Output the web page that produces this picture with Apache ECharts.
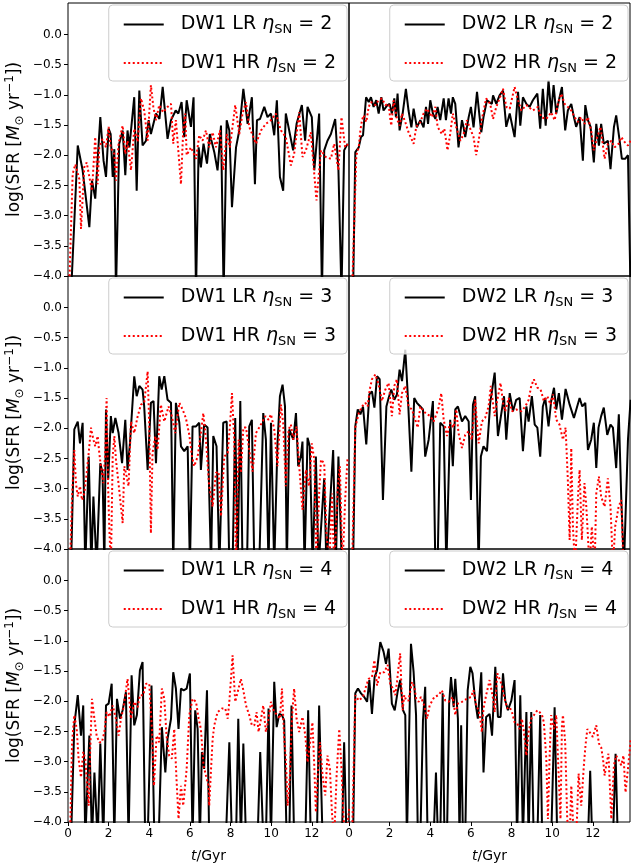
<!DOCTYPE html>
<html>
<head>
<meta charset="utf-8">
<script src="https://cdn.jsdelivr.net/npm/echarts@6/dist/echarts.min.js"></script>
<style>
  html, body { margin: 0; padding: 0; background: #fff; }
  #main { width: 631px; height: 864px; }
</style>
</head>
<body>
<div id="main"></div>
<script>
// SFR history, log(SFR) vs t [Gyr]; points below -4 mean "no star formation"
var dw1LR2 = [[0.15,-4.3],[0.23,-4.3],[0.48,-1.84],[0.72,-2.25],[1.05,-3.19],[1.18,-2.42],[1.34,-2.72],[1.59,-1.37],[1.75,-2.09],[1.87,-2.36],[2.0,-1.56],[2.1,-1.65],[2.2,-2.36],[2.28,-1.9],[2.36,-4.3],[2.52,-1.81],[2.69,-1.59],[2.82,-2.33],[2.93,-1.59],[3.02,-1.87],[3.26,-1.04],[3.38,-2.59],[3.51,-0.93],[3.67,-1.84],[3.84,-1.76],[3.97,-1.42],[4.08,-1.65],[4.33,-1.31],[4.5,-1.4],[4.66,-0.87],[4.75,-0.87],[4.9,-1.73],[5.07,-1.42],[5.3,-1.26],[5.43,-1.31],[5.59,-1.12],[5.72,-1.7],[5.84,-1.09],[6.05,-1.53],[6.18,-1.04],[6.3,-4.3],[6.43,-1.87],[6.54,-2.2],[6.67,-1.81],[6.84,-2.14],[6.98,-1.65],[7.2,-1.95],[7.36,-2.25],[7.53,-1.51],[7.66,-4.3],[7.81,-1.42],[7.94,-1.59],[8.07,-2.86],[8.27,-1.87],[8.43,-1.59],[8.63,-0.9],[8.84,-1.48],[9.05,-1.04],[9.2,-2.48],[9.3,-1.42],[9.45,-1.4],[9.66,-1.2],[9.82,-1.37],[9.99,-1.31],[10.15,-1.67],[10.28,-1.09],[10.43,-2.36],[10.59,-2.59],[10.72,-1.31],[10.85,-1.53],[11.08,-1.92],[11.25,-1.48],[11.51,-1.17],[11.67,-1.76],[11.79,-1.2],[12.0,-1.37],[12.12,-2.25],[12.36,-1.31],[12.5,-4.3],[12.61,-1.92],[12.77,-1.76],[12.94,-1.65],[13.15,-1.4],[13.31,-2.25],[13.46,-4.3],[13.59,-1.92],[13.76,-1.81]];
var dw1HR2 = [[0.05,-4.3],[0.23,-2.31],[0.36,-2.15],[0.56,-2.4],[0.64,-3.22],[0.8,-2.2],[0.92,-2.12],[1.05,-2.36],[1.18,-2.59],[1.34,-1.7],[1.46,-2.48],[1.54,-1.87],[1.7,-1.73],[1.87,-1.87],[2.0,-1.53],[2.1,-1.87],[2.28,-1.98],[2.36,-2.42],[2.49,-1.81],[2.69,-1.51],[2.82,-1.98],[2.93,-1.76],[3.1,-2.25],[3.26,-1.56],[3.43,-1.78],[3.59,-1.06],[3.75,-1.26],[3.92,-1.76],[4.08,-0.84],[4.2,-1.2],[4.33,-1.42],[4.49,-1.17],[4.69,-1.29],[4.9,-1.2],[5.07,-1.15],[5.18,-1.81],[5.31,-1.42],[5.56,-2.48],[5.67,-1.59],[5.77,-1.31],[5.84,-2.0],[6.05,-1.87],[6.3,-2.06],[6.46,-1.67],[6.62,-1.76],[6.79,-1.59],[6.95,-1.87],[7.12,-1.62],[7.28,-1.87],[7.48,-1.59],[7.64,-2.25],[7.81,-1.65],[7.97,-1.87],[8.23,-1.17],[8.43,-1.65],[8.59,-1.31],[8.76,-1.12],[8.92,-1.53],[9.25,-1.81],[9.5,-1.59],[9.74,-1.48],[9.99,-1.42],[10.23,-1.31],[10.48,-1.59],[10.72,-1.7],[10.97,-2.17],[11.13,-1.98],[11.38,-1.29],[11.54,-2.03],[11.71,-1.92],[11.95,-1.62],[12.12,-2.31],[12.23,-2.75],[12.45,-1.92],[12.69,-2.03],[12.94,-2.06],[13.1,-1.81],[13.31,-2.25],[13.46,-1.37],[13.64,-1.87],[13.8,-1.81]];
var dw2LR2 = [[0.2,-4.3],[0.31,-1.95],[0.48,-1.87],[0.59,-1.7],[0.69,-1.67],[0.84,-1.04],[0.97,-1.12],[1.08,-1.04],[1.21,-1.2],[1.34,-1.09],[1.46,-1.31],[1.59,-1.04],[1.7,-1.26],[1.87,-1.18],[2.0,-1.15],[2.11,-1.31],[2.23,-1.06],[2.31,-1.37],[2.39,-0.98],[2.49,-1.59],[2.64,-1.31],[2.8,-0.9],[2.93,-1.26],[3.07,-1.54],[3.18,-1.23],[3.34,-1.54],[3.51,-1.42],[3.67,-1.54],[3.79,-1.2],[3.89,-1.48],[4.0,-1.09],[4.13,-1.31],[4.25,-1.4],[4.36,-1.2],[4.49,-1.42],[4.66,-1.06],[4.77,-1.42],[4.9,-1.06],[5.02,-1.31],[5.11,-1.04],[5.23,-1.15],[5.39,-1.87],[5.56,-1.42],[5.64,-1.54],[5.72,-1.7],[5.89,-1.37],[6.0,-1.2],[6.13,-1.54],[6.3,-0.95],[6.41,-1.31],[6.51,-1.62],[6.62,-1.37],[6.79,-1.09],[7.03,-1.15],[7.09,-1.01],[7.25,-1.15],[7.41,-1.01],[7.58,-0.93],[7.74,-1.53],[7.91,-1.31],[8.15,-1.7],[8.32,-0.95],[8.43,-1.51],[8.56,-1.04],[8.73,-1.15],[8.89,-1.2],[9.05,-1.09],[9.27,-0.98],[9.41,-1.56],[9.54,-0.9],[9.68,-1.51],[9.82,-0.76],[9.95,-1.31],[10.07,-0.84],[10.2,-1.31],[10.33,-1.09],[10.48,-0.87],[10.64,-1.59],[10.77,-1.26],[10.94,-1.15],[11.07,-1.37],[11.18,-1.53],[11.35,-1.37],[11.51,-2.09],[11.63,-1.17],[11.76,-1.42],[11.89,-1.53],[12.05,-2.12],[12.17,-1.48],[12.3,-1.84],[12.41,-1.48],[12.54,-1.81],[12.74,-1.76],[12.87,-2.23],[13.04,-1.53],[13.15,-1.34],[13.32,-1.76],[13.43,-2.06],[13.59,-2.06],[13.73,-2.0],[13.86,-4.3]];
var dw2HR2 = [[0.15,-4.3],[0.36,-2.0],[0.48,-1.87],[0.56,-1.59],[0.64,-1.42],[0.72,-1.34],[0.85,-1.45],[0.97,-1.2],[1.08,-1.12],[1.3,-1.17],[1.46,-1.09],[1.62,-1.06],[1.79,-1.17],[1.95,-1.15],[2.03,-1.4],[2.08,-1.51],[2.2,-1.09],[2.36,-1.4],[2.49,-1.51],[2.61,-1.31],[2.77,-1.45],[2.93,-1.62],[3.18,-1.81],[3.31,-1.53],[3.51,-1.45],[3.67,-1.31],[3.84,-1.23],[4.08,-1.37],[4.25,-1.2],[4.36,-1.53],[4.57,-1.65],[4.69,-1.56],[4.85,-1.92],[4.98,-1.65],[5.11,-1.31],[5.23,-1.48],[5.48,-1.76],[5.64,-1.65],[5.8,-1.42],[6.13,-1.7],[6.26,-2.0],[6.38,-1.76],[6.54,-1.4],[6.75,-1.06],[6.95,-1.15],[7.09,-1.4],[7.25,-1.2],[7.41,-1.06],[7.58,-0.9],[7.74,-1.2],[7.91,-1.23],[8.15,-0.87],[8.32,-1.09],[8.48,-1.26],[8.73,-1.17],[9.05,-1.26],[9.3,-1.2],[9.46,-1.37],[9.71,-1.4],[9.95,-1.29],[10.12,-1.42],[10.28,-1.15],[10.45,-0.98],[10.61,-1.15],[10.77,-1.2],[10.94,-1.26],[11.1,-1.37],[11.27,-1.45],[11.43,-1.37],[11.59,-1.48],[11.76,-1.37],[11.92,-1.59],[12.05,-1.92],[12.22,-1.7],[12.38,-1.53],[12.58,-2.06],[12.74,-1.81],[12.91,-1.76],[13.07,-1.87],[13.27,-1.81],[13.4,-1.7],[13.56,-1.78],[13.73,-1.84],[13.86,-1.76]];

var dw1LR3 = [[0.15,-4.3],[0.31,-2.02],[0.48,-1.89],[0.59,-2.25],[0.72,-1.91],[0.85,-4.3],[1.02,-2.47],[1.15,-4.3],[1.25,-3.13],[1.41,-4.3],[1.59,-2.58],[1.7,-2.74],[1.79,-4.3],[1.87,-1.69],[1.98,-2.85],[2.11,-1.8],[2.2,-2.08],[2.33,-1.83],[2.49,-2.08],[2.66,-2.58],[2.82,-1.86],[2.93,-2.69],[3.05,-2.25],[3.26,-1.14],[3.38,-1.47],[3.51,-1.3],[3.67,-1.36],[3.75,-1.64],[3.92,-2.69],[4.08,-1.58],[4.21,-1.55],[4.33,-2.58],[4.49,-1.14],[4.61,-1.36],[4.74,-1.14],[4.9,-1.53],[5.07,-1.58],[5.18,-4.3],[5.31,-1.58],[5.48,-1.91],[5.56,-2.3],[5.72,-2.38],[5.89,-2.3],[6.0,-4.3],[6.13,-1.97],[6.3,-1.97],[6.46,-1.91],[6.54,-2.69],[6.7,-1.94],[6.87,-1.99],[7.04,-4.3],[7.15,-2.13],[7.31,-2.3],[7.45,-4.3],[7.64,-1.91],[7.81,-1.89],[7.94,-4.3],[8.1,-4.3],[8.23,-1.83],[8.35,-4.3],[8.48,-1.55],[8.59,-4.3],[8.81,-4.3],[8.92,-1.97],[9.05,-1.86],[9.17,-4.3],[9.41,-4.3],[9.61,-1.75],[9.74,-2.19],[9.87,-4.3],[9.99,-1.91],[10.15,-4.3],[10.31,-2.25],[10.43,-1.47],[10.56,-1.28],[10.68,-1.64],[10.77,-4.3],[10.89,-2.02],[11.09,-2.19],[11.22,-1.75],[11.33,-2.63],[11.46,-2.47],[11.54,-2.22],[11.64,-4.3],[11.79,-2.16],[11.9,-2.3],[12.04,-4.3],[12.2,-2.47],[12.33,-4.3],[12.61,-2.83],[12.72,-4.3],[13.05,-2.36],[13.18,-4.3],[13.31,-2.47],[13.48,-4.3],[13.84,-4.3]];
var dw1HR3 = [[0.1,-4.3],[0.2,-3.13],[0.31,-2.36],[0.39,-2.91],[0.48,-3.13],[0.59,-2.96],[0.69,-3.19],[0.8,-3.08],[0.92,-2.74],[1.02,-2.41],[1.13,-1.99],[1.25,-2.19],[1.34,-2.3],[1.46,-2.13],[1.54,-2.41],[1.62,-2.63],[1.74,-2.91],[1.84,-2.36],[1.9,-1.5],[1.97,-2.91],[2.03,-3.63],[2.11,-4.3],[2.2,-2.47],[2.28,-2.13],[2.36,-2.52],[2.52,-3.02],[2.69,-3.57],[2.77,-2.63],[2.85,-2.74],[2.98,-2.96],[3.1,-1.89],[3.26,-2.08],[3.43,-1.8],[3.59,-1.61],[3.75,-1.58],[3.92,-1.06],[4.0,-1.97],[4.08,-3.74],[4.16,-2.41],[4.3,-2.13],[4.41,-2.36],[4.57,-1.61],[4.74,-1.89],[4.95,-1.64],[5.11,-1.8],[5.28,-2.08],[5.48,-1.58],[5.64,-1.69],[5.8,-1.83],[5.97,-2.11],[6.1,-2.47],[6.21,-2.63],[6.38,-2.47],[6.54,-2.08],[6.66,-1.75],[6.79,-2.19],[6.95,-2.96],[7.12,-3.3],[7.28,-2.74],[7.41,-2.72],[7.53,-3.46],[7.69,-2.47],[7.86,-2.41],[7.97,-1.97],[8.07,-1.42],[8.18,-2.19],[8.27,-4.3],[8.4,-2.19],[8.51,-2.74],[8.63,-1.99],[8.76,-1.99],[8.92,-2.36],[9.09,-2.72],[9.25,-2.08],[9.41,-1.99],[9.54,-1.91],[9.71,-1.8],[9.87,-1.86],[9.99,-1.77],[10.15,-2.02],[10.31,-2.63],[10.48,-1.61],[10.59,-1.91],[10.72,-2.96],[10.86,-2.02],[10.97,-1.94],[11.09,-2.19],[11.25,-1.97],[11.38,-2.63],[11.54,-3.35],[11.71,-2.69],[11.87,-2.96],[12.0,-2.25],[12.12,-2.52],[12.23,-4.3],[12.36,-3.08],[12.45,-2.52],[12.61,-2.58],[12.72,-3.74],[12.86,-4.3],[12.99,-3.08],[13.1,-4.3],[13.27,-3.02],[13.38,-2.63],[13.51,-4.3],[13.64,-3.19],[13.76,-2.49]];
var dw2LR3 = [[0.2,-4.3],[0.31,-1.97],[0.43,-1.69],[0.56,-1.77],[0.69,-1.64],[0.85,-2.27],[1.0,-1.44],[1.13,-1.39],[1.25,-1.66],[1.38,-1.14],[1.51,-1.19],[1.67,-3.19],[1.84,-1.64],[1.95,-1.5],[2.08,-1.36],[2.23,-1.53],[2.36,-1.44],[2.49,-1.03],[2.61,-1.22],[2.77,-0.7],[2.9,-1.5],[3.07,-2.72],[3.21,-1.5],[3.34,-1.58],[3.51,-1.64],[3.64,-1.69],[3.75,-2.47],[3.92,-2.19],[4.13,-1.55],[4.25,-4.3],[4.36,-4.3],[4.49,-1.91],[4.66,-1.97],[4.79,-4.3],[4.98,-1.86],[5.11,-2.63],[5.23,-1.69],[5.36,-1.64],[5.56,-1.89],[5.72,-1.8],[5.89,-1.89],[6.0,-3.19],[6.1,-1.61],[6.21,-1.47],[6.38,-4.3],[6.49,-2.47],[6.62,-2.3],[6.79,-2.38],[6.95,-1.58],[7.17,-1.08],[7.33,-2.13],[7.5,-1.75],[7.63,-1.47],[7.74,-2.19],[7.91,-1.42],[8.07,-1.72],[8.23,-1.53],[8.4,-1.5],[8.56,-2.38],[8.73,-1.64],[8.84,-1.89],[9.0,-1.47],[9.14,-1.94],[9.27,-1.99],[9.41,-2.47],[9.54,-1.64],[9.66,-1.5],[9.82,-1.97],[9.95,-1.55],[10.09,-1.33],[10.2,-1.69],[10.33,-1.42],[10.48,-1.86],[10.66,-1.35],[10.86,-1.61],[11.07,-1.83],[11.23,-1.64],[11.35,-1.5],[11.48,-1.64],[11.63,-1.58],[11.76,-2.36],[11.92,-2.19],[12.05,-1.91],[12.17,-2.66],[12.28,-1.99],[12.41,-1.8],[12.54,-1.66],[12.71,-2.11],[12.87,-1.94],[12.99,-1.99],[13.15,-2.66],[13.28,-1.77],[13.4,-3.16],[13.53,-4.3],[13.73,-2.19],[13.86,-1.53]];
var dw2HR3 = [[0.15,-4.3],[0.31,-1.99],[0.48,-1.75],[0.64,-1.64],[0.8,-1.58],[0.92,-1.64],[1.02,-1.36],[1.13,-1.19],[1.3,-1.11],[1.46,-1.28],[1.62,-1.55],[1.79,-1.36],[1.95,-1.25],[2.11,-1.8],[2.23,-1.3],[2.36,-1.19],[2.49,-1.77],[2.61,-1.42],[2.77,-1.3],[2.93,-1.64],[3.1,-1.69],[3.26,-1.86],[3.38,-1.99],[3.51,-1.64],[3.67,-1.72],[3.84,-1.77],[4.0,-1.8],[4.16,-1.89],[4.3,-1.77],[4.41,-1.66],[4.54,-1.42],[4.66,-1.86],[4.82,-2.13],[4.98,-1.91],[5.15,-1.99],[5.28,-1.69],[5.39,-2.08],[5.56,-2.33],[5.72,-2.11],[5.89,-2.05],[6.05,-2.19],[6.21,-1.53],[6.38,-2.25],[6.54,-1.89],[6.7,-1.83],[6.87,-1.64],[6.98,-1.3],[7.04,-1.3],[7.17,-1.8],[7.3,-1.53],[7.46,-1.25],[7.58,-1.58],[7.69,-1.72],[7.86,-1.5],[8.02,-1.72],[8.23,-1.69],[8.48,-1.72],[8.68,-1.64],[8.84,-1.53],[8.97,-1.3],[9.1,-1.19],[9.27,-1.33],[9.43,-1.36],[9.59,-1.55],[9.76,-1.47],[9.92,-1.61],[10.04,-1.44],[10.2,-1.86],[10.36,-1.94],[10.53,-2.19],[10.66,-1.99],[10.77,-2.85],[10.86,-3.85],[10.94,-2.33],[11.02,-3.63],[11.13,-4.3],[11.27,-3.13],[11.35,-2.69],[11.46,-3.85],[11.59,-2.91],[11.68,-3.3],[11.84,-4.3],[11.95,-3.63],[12.09,-4.3],[12.17,-3.08],[12.3,-2.8],[12.41,-3.13],[12.58,-3.3],[12.74,-2.83],[12.87,-3.3],[12.99,-4.3],[13.1,-3.63],[13.27,-3.3],[13.4,-3.19],[13.51,-4.3],[13.64,-4.3]];

var dw1LR4 = [[0.15,-4.3],[0.31,-2.4],[0.48,-1.9],[0.64,-2.57],[0.75,-2.07],[0.85,-4.3],[1.05,-2.57],[1.18,-4.3],[1.3,-3.18],[1.46,-4.3],[1.59,-2.7],[1.74,-4.3],[1.87,-2.07],[2.0,-2.04],[2.15,-1.71],[2.28,-4.3],[2.41,-1.96],[2.56,-2.29],[2.69,-2.15],[2.85,-1.85],[2.98,-4.3],[3.13,-1.57],[3.26,-2.4],[3.39,-2.23],[3.54,-1.49],[3.67,-1.35],[3.8,-4.3],[3.92,-4.3],[4.11,-1.74],[4.25,-4.3],[4.46,-4.3],[4.62,-2.43],[4.79,-3.18],[4.9,-2.62],[5.07,-2.29],[5.18,-1.52],[5.31,-1.79],[5.44,-2.46],[5.56,-1.79],[5.69,-1.82],[5.84,-1.79],[6.0,-1.54],[6.13,-4.3],[6.26,-2.15],[6.38,-2.46],[6.49,-4.3],[6.59,-2.84],[6.7,-3.12],[6.84,-1.82],[6.95,-4.3],[7.77,-4.3],[7.94,-2.68],[8.07,-4.3],[8.27,-4.3],[8.38,-2.29],[8.51,-4.3],[8.63,-2.7],[8.76,-4.3],[9.33,-4.3],[9.46,-2.84],[9.61,-4.3],[9.74,-4.3],[9.87,-2.12],[9.99,-4.3],[10.15,-1.68],[10.27,-2.43],[10.4,-2.21],[10.53,-2.23],[10.64,-2.32],[10.76,-4.3],[10.89,-4.3],[11.0,-2.07],[11.13,-4.3],[11.68,-4.3],[11.82,-2.15],[11.95,-4.3],[12.25,-4.3],[12.36,-2.07],[12.53,-4.3],[13.48,-4.3],[13.59,-2.68],[13.71,-4.3]];
var dw1HR4 = [[0.1,-4.3],[0.2,-2.68],[0.31,-2.23],[0.43,-2.46],[0.52,-2.95],[0.64,-3.26],[0.75,-2.84],[0.85,-2.95],[0.92,-3.29],[1.02,-3.73],[1.08,-2.95],[1.18,-1.96],[1.3,-2.29],[1.41,-2.57],[1.54,-2.68],[1.67,-2.68],[1.79,-2.51],[1.9,-2.18],[2.03,-2.26],[2.2,-2.07],[2.36,-2.29],[2.49,-2.57],[2.61,-2.29],[2.72,-2.12],[2.82,-1.9],[2.93,-1.63],[3.1,-2.29],[3.26,-2.01],[3.43,-2.1],[3.54,-1.9],[3.7,-1.9],[3.84,-1.71],[4.0,-1.71],[4.13,-2.46],[4.23,-3.4],[4.36,-2.57],[4.49,-2.68],[4.62,-1.79],[4.74,-1.96],[4.85,-2.57],[4.98,-2.9],[5.11,-2.95],[5.23,-2.46],[5.34,-3.29],[5.44,-3.95],[5.56,-3.4],[5.67,-3.73],[5.84,-3.12],[5.97,-2.23],[6.13,-1.96],[6.3,-2.01],[6.43,-2.29],[6.54,-2.46],[6.67,-3.06],[6.79,-3.23],[6.92,-3.4],[6.95,-3.73],[7.04,-3.12],[7.12,-2.62],[7.2,-2.4],[7.36,-2.18],[7.58,-2.12],[7.74,-2.12],[7.86,-2.29],[7.94,-2.01],[8.02,-1.63],[8.1,-1.24],[8.23,-2.01],[8.35,-1.85],[8.51,-1.63],[8.63,-1.82],[8.76,-2.07],[8.92,-2.23],[9.05,-2.4],[9.17,-2.4],[9.28,-2.18],[9.38,-2.51],[9.5,-2.29],[9.61,-2.07],[9.74,-2.51],[9.87,-2.29],[9.99,-2.01],[10.15,-2.18],[10.31,-2.23],[10.43,-2.29],[10.53,-1.79],[10.64,-2.62],[10.72,-2.95],[10.81,-3.73],[10.92,-3.23],[11.02,-2.29],[11.13,-1.79],[11.25,-2.29],[11.38,-2.51],[11.54,-2.26],[11.68,-2.57],[11.79,-3.01],[11.92,-2.68],[12.03,-2.35],[12.12,-3.06],[12.2,-3.84],[12.28,-3.29],[12.4,-2.68],[12.53,-3.23],[12.66,-3.56],[12.77,-2.9],[12.89,-3.12],[12.99,-3.84],[13.1,-4.3],[13.22,-3.23],[13.35,-2.46],[13.46,-3.12],[13.56,-3.95],[13.68,-4.3],[13.84,-3.78]];
var dw2LR4 = [[0.2,-4.3],[0.31,-1.87],[0.44,-1.79],[0.59,-1.87],[0.75,-1.93],[0.89,-2.01],[1.0,-1.65],[1.13,-2.21],[1.26,-1.6],[1.38,-1.49],[1.54,-1.02],[1.7,-1.18],[1.82,-1.38],[1.95,-1.13],[2.11,-2.04],[2.25,-2.15],[2.39,-1.85],[2.52,-1.65],[2.66,-2.15],[2.77,-2.23],[2.85,-4.3],[2.93,-4.3],[3.05,-1.05],[3.18,-1.52],[3.3,-2.23],[3.39,-4.3],[3.51,-4.3],[3.64,-2.32],[3.75,-1.76],[3.87,-4.3],[4.16,-4.3],[4.28,-3.18],[4.38,-4.3],[4.49,-4.3],[4.61,-1.87],[4.7,-4.3],[4.82,-4.3],[4.93,-2.04],[5.02,-1.6],[5.15,-2.1],[5.23,-1.63],[5.36,-2.29],[5.44,-4.3],[5.52,-2.4],[5.61,-4.3],[5.72,-4.3],[5.84,-1.82],[5.97,-1.43],[6.08,-1.54],[6.21,-1.99],[6.34,-2.29],[6.51,-1.52],[6.62,-3.18],[6.75,-2.26],[6.92,-2.21],[7.04,-2.57],[7.2,-1.43],[7.33,-2.26],[7.46,-2.26],[7.58,-1.54],[7.69,-1.99],[7.82,-2.15],[7.99,-1.99],[8.15,-1.65],[8.27,-4.3],[8.43,-1.9],[8.56,-4.3],[8.73,-2.18],[8.84,-4.3],[8.97,-2.18],[9.09,-4.3],[9.27,-4.3],[9.41,-2.23],[9.51,-4.3],[9.95,-4.3],[10.12,-2.1],[10.25,-4.3],[11.76,-4.3],[11.87,-3.15],[11.97,-4.3],[12.99,-4.3],[13.12,-2.87],[13.23,-4.3],[13.85,-4.3]];
var dw2HR4 = [[0.15,-4.3],[0.31,-1.9],[0.48,-1.99],[0.69,-1.93],[0.85,-1.74],[0.97,-1.63],[1.13,-1.6],[1.25,-1.32],[1.38,-1.74],[1.54,-1.52],[1.74,-1.52],[1.9,-1.4],[2.03,-1.71],[2.16,-1.79],[2.28,-1.9],[2.36,-1.68],[2.44,-1.43],[2.52,-1.21],[2.57,-1.68],[2.64,-2.15],[2.72,-1.9],[2.82,-1.99],[2.93,-1.99],[3.1,-1.68],[3.21,-1.76],[3.31,-1.96],[3.43,-2.01],[3.54,-1.93],[3.7,-2.07],[3.84,-2.29],[3.97,-2.07],[4.2,-1.93],[4.41,-1.9],[4.57,-1.82],[4.74,-1.99],[4.9,-2.01],[5.11,-1.93],[5.23,-2.23],[5.36,-2.04],[5.56,-2.01],[5.8,-1.96],[6.0,-1.93],[6.13,-1.82],[6.26,-2.07],[6.38,-2.15],[6.46,-2.29],[6.54,-2.51],[6.62,-2.12],[6.75,-1.9],[6.92,-1.65],[7.09,-1.96],[7.17,-2.18],[7.3,-1.54],[7.41,-1.63],[7.53,-1.74],[7.66,-1.96],[7.79,-2.12],[7.91,-2.1],[8.02,-2.18],[8.15,-2.35],[8.28,-2.37],[8.4,-2.46],[8.51,-2.29],[8.61,-2.51],[8.73,-2.9],[8.84,-2.51],[8.97,-2.29],[9.1,-2.23],[9.27,-2.15],[9.38,-2.18],[9.5,-2.23],[9.59,-2.35],[9.71,-2.95],[9.79,-3.95],[9.87,-2.95],[9.95,-2.23],[10.09,-2.46],[10.2,-2.23],[10.32,-3.23],[10.41,-3.95],[10.48,-2.4],[10.53,-2.23],[10.64,-2.68],[10.74,-3.95],[10.86,-4.3],[10.94,-3.4],[11.07,-4.3],[11.18,-4.3],[11.3,-3.2],[11.43,-3.73],[11.56,-3.06],[11.64,-2.73],[11.73,-2.46],[11.84,-2.51],[12.0,-2.59],[12.17,-2.4],[12.3,-2.7],[12.41,-2.76],[12.5,-2.95],[12.58,-3.23],[12.66,-3.06],[12.77,-2.87],[12.91,-3.95],[13.04,-3.06],[13.15,-2.9],[13.28,-2.98],[13.4,-3.06],[13.51,-2.9],[13.61,-3.51],[13.73,-3.12],[13.86,-2.65]];

var yTicks = [-4.0, -3.5, -3.0, -2.5, -2.0, -1.5, -1.0, -0.5, 0.0];
var xTicks = [0, 2, 4, 6, 8, 10, 12];
var etaValues = [2, 3, 4];

var FONT = 'DejaVu Sans';
var X_MAX = 13.83, Y_MIN = -4, Y_MAX = 0.52;

// panel order: row by row, left column DW1, right column DW2
var panels = [
  { dw: 'DW1', eta: etaValues[0], lr: dw1LR2, hr: dw1HR2 },
  { dw: 'DW2', eta: etaValues[0], lr: dw2LR2, hr: dw2HR2 },
  { dw: 'DW1', eta: etaValues[1], lr: dw1LR3, hr: dw1HR3 },
  { dw: 'DW2', eta: etaValues[1], lr: dw2LR3, hr: dw2HR3 },
  { dw: 'DW1', eta: etaValues[2], lr: dw1LR4, hr: dw1HR4 },
  { dw: 'DW2', eta: etaValues[2], lr: dw2LR4, hr: dw2HR4 }
];

var colLeft = [68, 349];
var rowTop = [3, 276, 549];
var PW = 281, PH = 273;

function fmtNum(v) {
  return v.toFixed(1).replace('-', '\u2212');
}

var grids = [], xAxes = [], yAxes = [], series = [], legends = [];

panels.forEach(function (p, i) {
  var row = Math.floor(i / 2), col = i % 2;
  var bottomRow = row === 2, leftCol = col === 0;

  grids.push({
    left: colLeft[col], top: rowTop[row], width: PW, height: PH,
    show: true, borderColor: '#000', borderWidth: 1, backgroundColor: 'transparent'
  });

  xAxes.push({
    gridIndex: i, type: 'value', min: 0, max: X_MAX, interval: 2,
    splitLine: { show: false },
    axisLine: { show: false, onZero: false },
    axisTick: { show: bottomRow, length: 4, customValues: xTicks, lineStyle: { color: '#000' } },
    axisLabel: {
      show: bottomRow, color: '#000', fontFamily: FONT, fontSize: 12, margin: 6,
      customValues: xTicks
    },
    name: bottomRow ? '{i|t}/Gyr' : '',
    nameLocation: 'middle', nameGap: 27,
    nameTextStyle: {
      color: '#000', fontFamily: FONT, fontSize: 14,
      rich: { i: { fontStyle: 'italic', fontFamily: FONT, fontSize: 14, color: '#000' } }
    }
  });

  yAxes.push({
    gridIndex: i, type: 'value', min: Y_MIN, max: Y_MAX, interval: 0.5,
    splitLine: { show: false },
    axisLine: { show: false, onZero: false },
    axisTick: { show: leftCol, length: 4, customValues: yTicks, lineStyle: { color: '#000' } },
    axisLabel: {
      show: leftCol, color: '#000', fontFamily: FONT, fontSize: 12, margin: 6,
      customValues: yTicks,
      formatter: function (v) { return fmtNum(v); }
    },
    name: leftCol ? '{n|log(SFR [}{i|M}{sub|\u2299}{n| yr}{sup|\u22121}{n|])}' : '',
    nameLocation: 'middle', nameRotate: 90, nameGap: 42,
    nameTextStyle: {
      color: '#000', fontFamily: FONT, fontSize: 17,
      rich: {
        n: { fontFamily: FONT, fontSize: 17, color: '#000', lineHeight: 22 },
        i: { fontFamily: FONT, fontSize: 17, fontStyle: 'italic', color: '#000', lineHeight: 22 },
        sub: { fontFamily: FONT, fontSize: 12, color: '#000', lineHeight: 12, verticalAlign: 'bottom' },
        sup: { fontFamily: FONT, fontSize: 12, color: '#000', lineHeight: 12, verticalAlign: 'top' }
      }
    }
  });

  var lrName = p.dw + ' LR ' + p.eta;
  var hrName = p.dw + ' HR ' + p.eta;

  series.push({
    name: lrName, type: 'line', xAxisIndex: i, yAxisIndex: i,
    data: p.lr, showSymbol: false, symbol: 'none', clip: true,
    lineStyle: { color: '#000', width: 2 }, itemStyle: { color: '#000' }, z: 3
  });
  series.push({
    name: hrName, type: 'line', xAxisIndex: i, yAxisIndex: i,
    data: p.hr, showSymbol: false, symbol: 'none', clip: true,
    lineStyle: { color: '#ff0000', width: 2, type: [2, 2.5] }, itemStyle: { color: '#ff0000' }, z: 4
  });

  legends.push({
    show: true,
    data: [lrName, hrName], orient: 'vertical',
    right: leftCol ? 631 - 347 : 3, top: rowTop[row] + 2,
    itemWidth: 40, itemHeight: 14, itemGap: 17,
    padding: [10, 11, 6, 14],
    borderColor: '#cccccc', borderWidth: 1, borderRadius: 4,
    backgroundColor: 'rgba(255,255,255,0.8)',
    selectedMode: false,
    itemStyle: { opacity: 0 },
    formatter: function (name) {
      var parts = name.split(' ');
      return '{n|  ' + parts[0] + ' ' + parts[1] + ' }{i|\u03b7}{sub|SN}{n| = ' + parts[2] + '}';
    },
    textStyle: {
      color: '#000', fontFamily: FONT, fontSize: 19,
      rich: {
        n: { fontFamily: FONT, fontSize: 19, color: '#000', lineHeight: 24 },
        i: { fontFamily: FONT, fontSize: 19, fontStyle: 'italic', color: '#000', lineHeight: 24 },
        sub: { fontFamily: FONT, fontSize: 13, color: '#000', lineHeight: 14, verticalAlign: 'bottom' }
      }
    }
  });
});

var chart = echarts.init(document.getElementById('main'), null, { renderer: 'canvas' });
chart.setOption({
  backgroundColor: '#fff',
  animation: false,
  grid: grids,
  xAxis: xAxes,
  yAxis: yAxes,
  legend: legends,
  series: series
});
</script>
</body>
</html>
